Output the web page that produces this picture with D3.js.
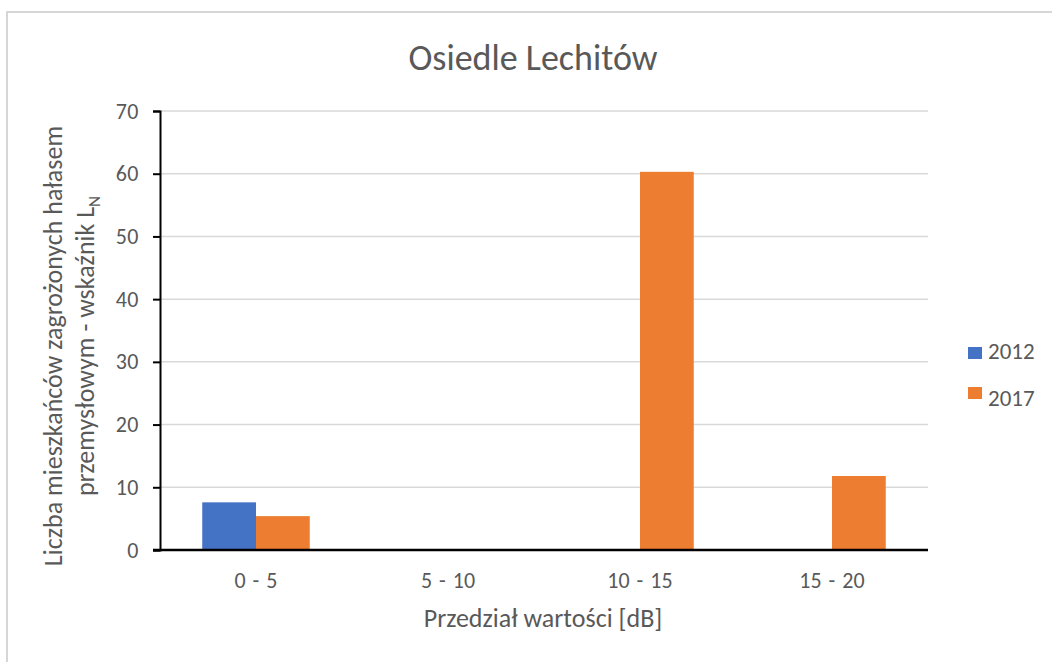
<!DOCTYPE html>
<html><head><meta charset="utf-8">
<script src="https://cdn.jsdelivr.net/npm/d3@7/dist/d3.min.js"></script>
<style>body{margin:0;background:#fff}svg{display:block}</style>
</head><body>
<svg id="c" width="1052" height="662"></svg>
<script>
const categories = ["0 - 5", "5 - 10", "10 - 15", "15 - 20"];
const seriesNames = ["2012", "2017"];
const values2012 = [7.6, 0, 0, 0];
const values2017 = [5.4, 0, 60.3, 11.8];
const yTicks = [0, 10, 20, 30, 40, 50, 60, 70];
const colors = ["#4472C4", "#ED7D31"];

const font = "Carlito, Calibri, 'Open Sans', sans-serif";
const txt = "#595959";
const svg = d3.select("#c");

// frame (top and left edges visible)
svg.append("line").attr("x1", 6.5).attr("x2", 1052).attr("y1", 12).attr("y2", 12)
  .attr("stroke", "#d6d6d6").attr("stroke-width", 2);
svg.append("line").attr("x1", 7).attr("x2", 7).attr("y1", 11).attr("y2", 662)
  .attr("stroke", "#d6d6d6").attr("stroke-width", 2);

const L = 160, R = 928, T = 111, B = 550;
const x0 = d3.scaleBand().domain(categories).range([L, R]).paddingInner(0.44).paddingOuter(0.22);
const x1 = d3.scaleBand().domain(seriesNames).range([0, x0.bandwidth()]);
const y = d3.scaleLinear().domain([0, 70]).range([B, T]);

// gridlines
svg.append("g").selectAll("line").data(yTicks.filter(d => d > 0)).join("line")
  .attr("x1", L).attr("x2", R).attr("y1", d => y(d)).attr("y2", d => y(d))
  .attr("stroke", "#d9d9d9").attr("stroke-width", 1.5);

const data = [values2012, values2017];
seriesNames.forEach((s, i) => {
  svg.append("g").selectAll("rect").data(categories).join("rect")
    .attr("x", c => x0(c) + x1(s))
    .attr("y", (c, j) => y(data[i][j]))
    .attr("width", x1.bandwidth())
    .attr("height", (c, j) => B - y(data[i][j]))
    .attr("fill", colors[i]);
});

// y axis
const yAxis = svg.append("g").attr("transform", `translate(${L},0)`)
  .call(d3.axisLeft(y).tickValues(yTicks).tickSize(7).tickPadding(14));
yAxis.select(".domain").attr("stroke", "#000").attr("stroke-width", 2);
yAxis.selectAll(".tick line").attr("stroke", "#000").attr("stroke-width", 2);
yAxis.selectAll("text").attr("fill", txt).style("font-family", font).style("font-size", "22px")
  .style("letter-spacing", "0.5px");

// x axis
svg.append("line").attr("x1", L - 7).attr("x2", R).attr("y1", B).attr("y2", B)
  .attr("stroke", "#000").attr("stroke-width", 2.5);
svg.append("g").selectAll("text").data(categories).join("text")
  .attr("x", c => x0(c) + x0.bandwidth() / 2).attr("y", 588)
  .attr("text-anchor", "middle").attr("fill", txt)
  .style("font-family", font).style("font-size", "22px").style("word-spacing", "2px").text(c => c);

// title
svg.append("text").attr("x", 533).attr("y", 70).attr("text-anchor", "middle")
  .attr("fill", txt).style("font-family", font).style("font-size", "36px").text("Osiedle Lechitów");

// x title
svg.append("text").attr("x", 543).attr("y", 627).attr("text-anchor", "middle")
  .attr("fill", txt).style("font-family", font).style("font-size", "26px").text("Przedział wartości [dB]");

// y title
const yt = svg.append("text").attr("transform", "translate(0,346) rotate(-90)")
  .attr("text-anchor", "middle").attr("fill", txt)
  .style("font-family", font).style("font-size", "26px");
yt.append("tspan").attr("x", 0).attr("y", 62).text("Liczba mieszkańców zagrożonych hałasem");
const t2 = yt.append("tspan").attr("x", 0).attr("y", 94);
t2.append("tspan").text("przemysłowym - wskaźnik L");
t2.append("tspan").attr("dy", 6).style("font-size", "17px").text("N");

// legend
const lg = svg.append("g");
seriesNames.forEach((s, i) => {
  const base = 359 + i * 47;
  lg.append("rect").attr("x", 968).attr("y", base - 12 - i * 7).attr("width", 14).attr("height", 12).attr("fill", colors[i]);
  lg.append("text").attr("x", 988).attr("y", base).attr("fill", txt)
    .style("font-family", font).style("font-size", "23px").text(s);
});
</script>
</body></html>
